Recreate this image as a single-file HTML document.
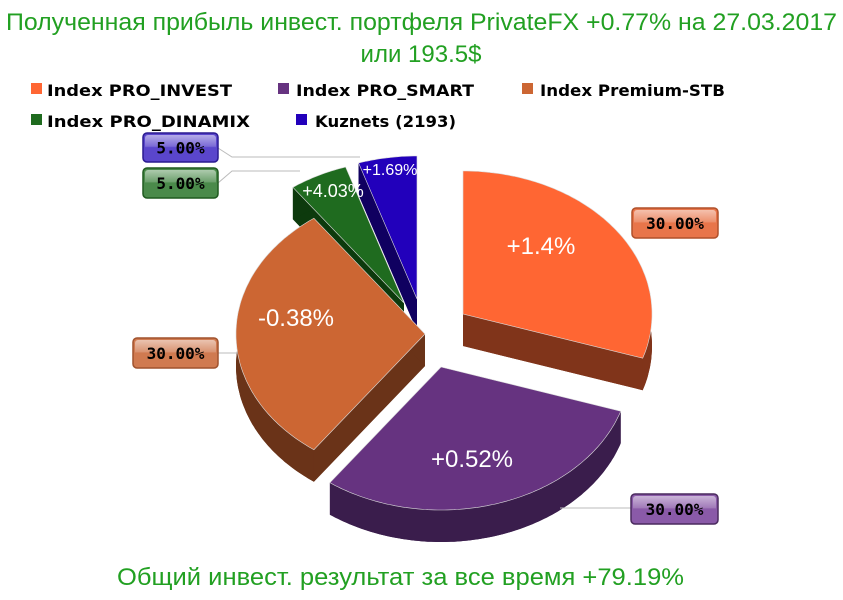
<!DOCTYPE html>
<html><head><meta charset="utf-8"><style>
body{margin:0;background:#fff;width:843px;height:600px;overflow:hidden;}
svg{display:block}
.t{font-family:"Liberation Sans","DejaVu Sans",sans-serif;fill:#22a022;font-size:24px}
.lg{font-family:"DejaVu Sans","Liberation Sans",sans-serif;font-weight:bold;font-size:16px;fill:#000}
.in{font-family:"Liberation Sans",sans-serif;fill:#fff}
.cb{font-family:"DejaVu Sans Mono","Liberation Mono",monospace;font-weight:bold;font-size:16px;fill:#000}
</style></head><body>
<svg id="s" width="843" height="600" xmlns="http://www.w3.org/2000/svg">
<defs>
<linearGradient id="gl" x1="0" y1="0" x2="0" y2="1"><stop offset="0" stop-color="#fff" stop-opacity=".55"/><stop offset=".45" stop-color="#fff" stop-opacity=".2"/><stop offset=".5" stop-color="#fff" stop-opacity="0"/></linearGradient>
</defs>
<text class="t" x="6" y="30" textLength="831" lengthAdjust="spacingAndGlyphs">Полученная прибыль инвест. портфеля PrivateFX +0.77% на 27.03.2017</text>
<text class="t" x="421" y="62" text-anchor="middle">или 193.5$</text>
<text class="t" x="117" y="585" textLength="567" lengthAdjust="spacingAndGlyphs">Общий инвест. результат за все время +79.19%</text>
<rect x="31" y="83" width="11" height="11" fill="#FF6633"/><text class="lg" x="47" y="96" textLength="185" lengthAdjust="spacingAndGlyphs">Index PRO_INVEST</text>
<rect x="278" y="83" width="11" height="11" fill="#663380"/><text class="lg" x="296" y="96" textLength="178" lengthAdjust="spacingAndGlyphs">Index PRO_SMART</text>
<rect x="522" y="83" width="11" height="11" fill="#CC6633"/><text class="lg" x="540" y="96" textLength="185" lengthAdjust="spacingAndGlyphs">Index Premium-STB</text>
<rect x="31" y="114" width="11" height="11" fill="#1F6B1F"/><text class="lg" x="47" y="127" textLength="203" lengthAdjust="spacingAndGlyphs">Index PRO_DINAMIX</text>
<rect x="296" y="114" width="11" height="11" fill="#2200BB"/><text class="lg" x="315" y="127" textLength="141" lengthAdjust="spacingAndGlyphs">Kuznets (2193)</text>
<g id="pie"></g>
<g fill="none" stroke="#bbb" stroke-width="1">
<polyline points="218,148 232,157 360,157"/>
<polyline points="218,183 232,171 300,171"/>
<polyline points="632,222 645,222"/>
<polyline points="560,508 631,508"/>
<polyline points="218,353 237,353"/>
</g>
<g id="boxes"></g>
</svg>
<script>
var NS="http://www.w3.org/2000/svg",pie=document.getElementById("pie");
function el(n,a,p){var e=document.createElementNS(NS,n);for(var k in a)e.setAttribute(k,a[k]);(p||pie).appendChild(e);return e;}
var rx=189,ry=143,D=32;
function pt(c,a,dy){var r=a*Math.PI/180;return [c[0]+rx*Math.sin(r),c[1]-ry*Math.cos(r)+(dy||0)];}
function arcPts(c,a1,a2,dy){var p=[];for(var a=a1;a<=a2+0.001;a+=1)p.push(pt(c,a,dy));return p;}
function poly(ps){return "M"+ps.map(function(p){return p[0].toFixed(1)+","+p[1].toFixed(1)}).join("L")+"Z";}
function slice(c,a1,a2,top,side){
 var cb=[c[0],c[1]+D];
 el("path",{d:poly([cb].concat(arcPts(c,a1,a2,D))),fill:side});
 [a1,a2].forEach(function(a){var p=pt(c,a);el("path",{d:poly([c,p,[p[0],p[1]+D],cb]),fill:side});});
 var up=arcPts(c,a1,a2,0),dn=arcPts(c,a1,a2,D).reverse();
 el("path",{d:poly(up.concat(dn)),fill:side});
 el("path",{d:poly([c].concat(up)),fill:top,stroke:"#ddd","stroke-width":0.6});
}
slice([404,303],324,342,"#1F6B1F","#0d3a0d");
slice([417,299],342,360,"#2200BB","#100060");
slice([425,334],216,324,"#CC6633","#6a3318");
slice([463,314],0,108,"#FF6633","#80341a");
slice([441,367],108,216,"#663380","#3a1d4c");
function tx(x,y,s,t){var e=el("text",{x:x,y:y,"font-size":s,"text-anchor":"middle","class":"in"});e.textContent=t;}
tx(541,254,24,"+1.4%");tx(472,467,24,"+0.52%");tx(296,326,24,"-0.38%");tx(333,197,18,"+4.03%");tx(390,175,16,"+1.69%");
var bx=document.getElementById("boxes");
function box(x,y,w,h,c,b,t){
 el("rect",{x:x,y:y,width:w,height:h,rx:4,fill:c,stroke:b,"stroke-width":1.5},bx);
 el("rect",{x:x+2,y:y+2,width:w-4,height:h-4,rx:3,fill:"url(#gl)"},bx);
 var e=el("text",{x:x+w/2,y:y+h/2+6,"text-anchor":"middle","class":"cb"},bx);e.textContent=t;}
box(632,208,86,30,"#e8754a","#b0502a","30.00%");
box(631,494,87,30,"#8a5aa8","#4a2a5e","30.00%");
box(133,338,85,30,"#d07a50","#a0522d","30.00%");
box(143,133,75,29,"#5a46cc","#2a1a90","5.00%");
box(143,168,75,30,"#4a8a4a","#1f5a1f","5.00%");
</script>
</body></html>
